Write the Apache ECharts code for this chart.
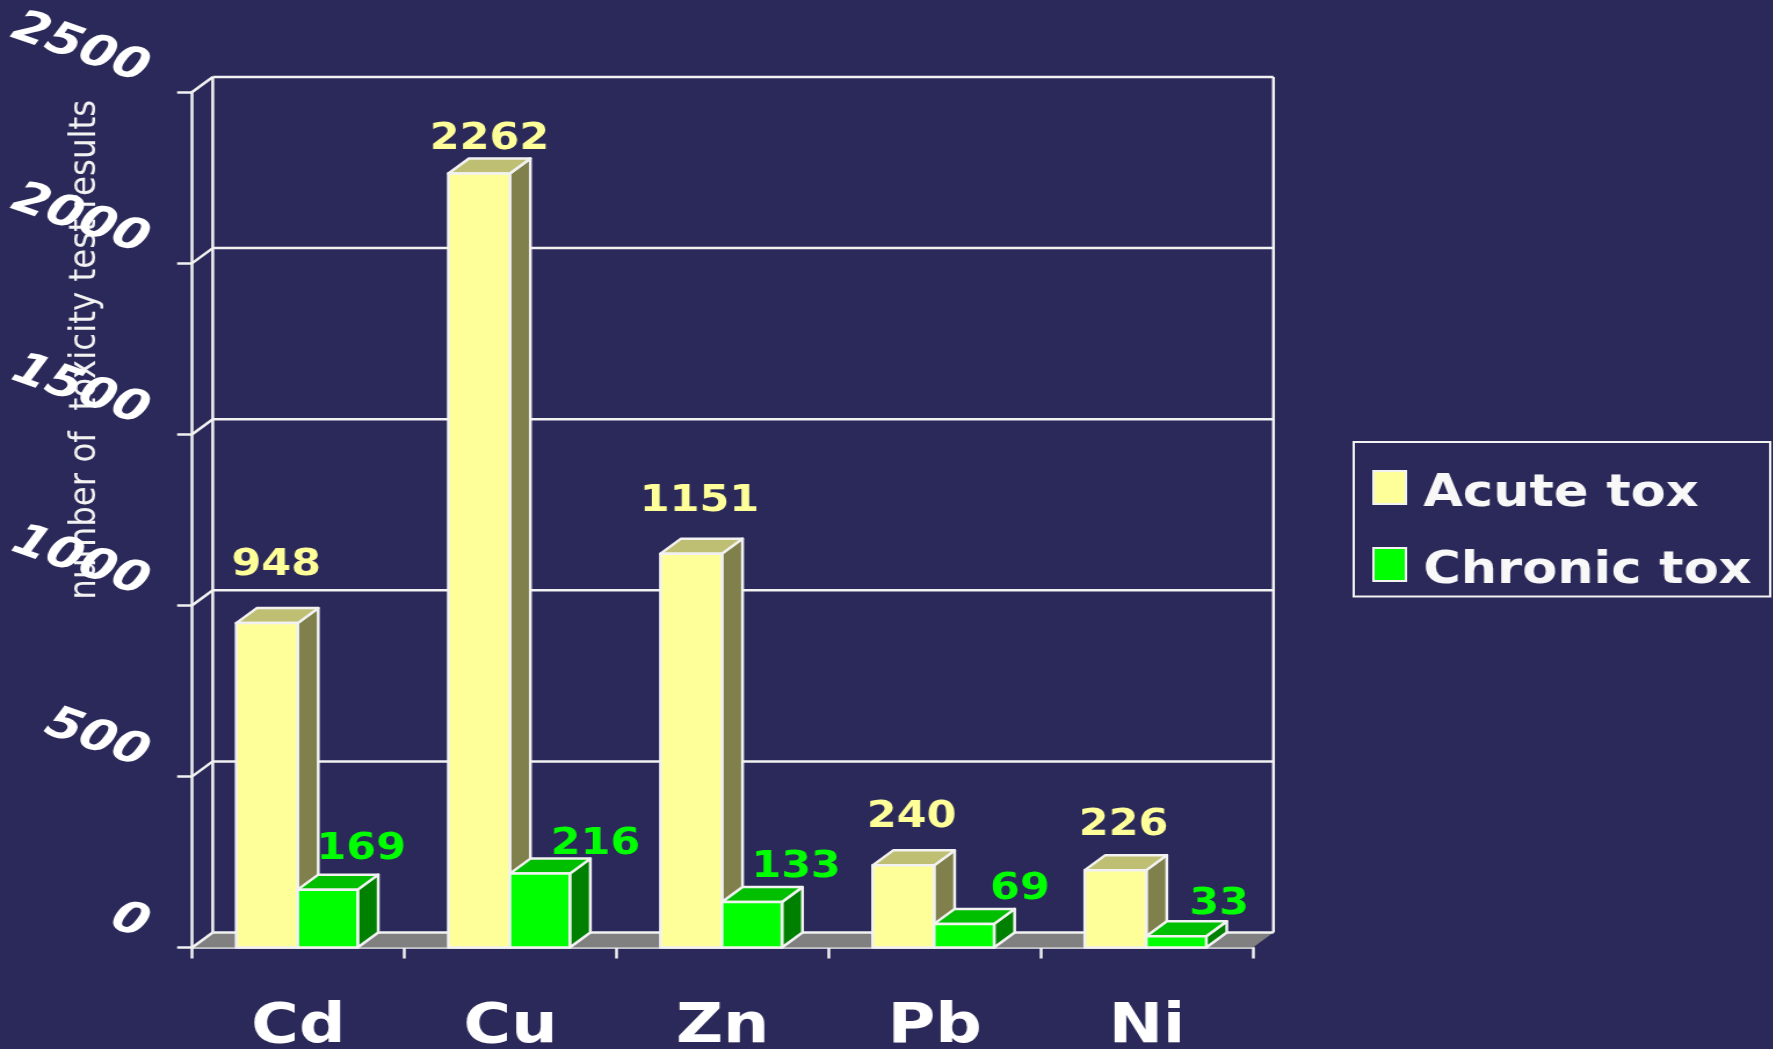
<!DOCTYPE html>
<html>
<head>
<meta charset="utf-8">
<title>Toxicity test results</title>
<script src="https://cdn.jsdelivr.net/npm/echarts@6/dist/echarts.min.js"></script>
<style>
  html, body { margin: 0; padding: 0; background: #2b2959; overflow: hidden; }
  /* the original slide is stretched sideways, text included */
  #chart { width: 1528.45px; height: 1049px; transform: scaleX(1.16); transform-origin: 0 0; }
</style>
</head>
<body>
<div id="chart"></div>
<script>
const metals = ["Cd", "Cu", "Zn", "Pb", "Ni"]
const acuteTox = [948, 2262, 1151, 240, 226]
const chronicTox = [169, 216, 133, 69, 33]
const yTicks = [0, 500, 1000, 1500, 2000, 2500]

// hand-placed value labels in the original: offset from the bar's top centre
const acuteLabelDx = [8, 9, 7, 7, 7]
const acuteLabelDy = [-58, -34, -52, -48, -45]
const chronicLabelDx = [29, 48, 38, 48, 37]
const chronicLabelDy = [-40, -29, -35, -34, -32]

const depthX = 17.7
const depthY = 15
const font = "DejaVu Sans"
const line = "#f2f2f2"
const lineWidth = 2.5

function box(params, api, o) {
  const [cx, top] = api.coord([api.value(0), api.value(1)])
  const [, base] = api.coord([api.value(0), 0])
  const x0 = cx + o.shift
  const x1 = x0 + o.width
  const edge = { stroke: line, lineWidth, lineJoin: "round" }
  return {
    type: "group",
    children: [
      { type: "polygon", shape: { points: [[x1, top], [x1 + depthX, top - depthY], [x1 + depthX, base - depthY], [x1, base]] },
        style: { fill: o.side, ...edge } },
      { type: "polygon", shape: { points: [[x0, top], [x0 + depthX, top - depthY], [x1 + depthX, top - depthY], [x1, top]] },
        style: { fill: o.cap, ...edge } },
      { type: "rect", shape: { x: x0, y: top, width: o.width, height: base - top },
        style: { fill: o.color, ...edge } },
      { type: "text", x: x0 + o.width / 2 + o.labelDx[params.dataIndex], y: top + o.labelDy[params.dataIndex],
        style: { text: String(api.value(1)), fill: o.color, font: `bold 37px "${font}"`, align: "center", verticalAlign: "middle" } },
    ],
  }
}

function renderWall(params, api) {
  const { x, width } = params.coordSys
  const y = api.coord([0, api.value(1)])[1]
  const [, base] = api.coord([0, 0])
  const right = x + width
  const stroke = { stroke: line, lineWidth }
  const children = [
    { type: "line", shape: { x1: x + depthX, y1: y - depthY, x2: right + depthX, y2: y - depthY }, style: stroke },
    { type: "line", shape: { x1: x, y1: y, x2: x + depthX, y2: y - depthY }, style: stroke },
  ]
  if (params.dataIndex === 0) {
    children.unshift({ type: "polygon", shape: { points: [[x, base], [x + depthX, base - depthY], [right + depthX, base - depthY], [right, base]] },
      style: { fill: "#808080" } })
    const wallTop = api.coord([0, yTicks[yTicks.length - 1]])[1] - depthY
    children.push(
      { type: "line", shape: { x1: x + depthX, y1: wallTop, x2: x + depthX, y2: base - depthY }, style: stroke },
      { type: "line", shape: { x1: right + depthX, y1: wallTop, x2: right + depthX, y2: base - depthY }, style: stroke },
    )
  }
  return { type: "group", children }
}

const chart = echarts.init(document.getElementById("chart"))

chart.setOption({
  backgroundColor: "#2b2959",
  animation: false,
  legend: {
    orient: "vertical",
    left: 1167,
    top: 442,
    padding: [28, 16, 3, 16],
    icon: "rect",
    itemWidth: 28,
    itemHeight: 33,
    itemGap: 30.4,
    itemStyle: { borderColor: line, borderWidth: 2 },
    borderColor: line,
    borderWidth: 2,
    selectedMode: false,
    data: ["Acute tox", "Chronic tox"],
    formatter: "{t|{name}}",
    textStyle: {
      rich: { t: { color: "#f8f8f8", fontFamily: font, fontWeight: "bold", fontSize: 44, padding: [14, 0, 0, 10] } },
    },
  },
  grid: { left: 165.7, top: 92, width: 914.4, height: 855.5, outerBoundsMode: "none" },
  xAxis: {
    type: "category",
    data: metals,
    axisLine: { lineStyle: { color: line, width: lineWidth } },
    axisTick: { show: true, length: 11, lineStyle: { color: line, width: lineWidth } },
    axisLabel: { interval: 0, color: "#fff", fontFamily: font, fontWeight: "bold", fontSize: 56, margin: 52 },
  },
  yAxis: {
    type: "value",
    min: 0,
    max: 2500,
    interval: 500,
    name: "number of  toxicity test results",
    nameLocation: "middle",
    nameRotate: 90,
    nameGap: 76,
    nameMoveOverlap: false,
    nameTextStyle: { color: "#f2f2f2", fontFamily: font, fontSize: 32.5, padding: [0, 0, 0, 340] },
    axisLine: { show: true, lineStyle: { color: line, width: lineWidth } },
    axisTick: { show: true, length: 13, lineStyle: { color: line, width: lineWidth } },
    splitLine: { show: false },
    axisLabel: {
      color: "#fff", fontFamily: font, fontWeight: "bold", fontStyle: "italic", fontSize: 44,
      rotate: -22, margin: 48, verticalAlign: "bottom",
      formatter: (v) => String(v),
    },
  },
  series: [
    {
      type: "custom", name: "wall", silent: true,
      encode: { x: 0, y: 1 },
      data: yTicks.map((v) => [0, v]),
      renderItem: renderWall,
    },
    {
      type: "custom", name: "Acute tox", silent: true,
      itemStyle: { color: "#ffff99" },
      encode: { x: 0, y: 1 },
      data: acuteTox.map((v, i) => [i, v]),
      renderItem: (params, api) => box(params, api, {
        shift: -53.5, width: 53, color: "#ffff99", side: "#80804d", cap: "#bfbf73",
        labelDx: acuteLabelDx, labelDy: acuteLabelDy,
      }),
    },
    {
      type: "custom", name: "Chronic tox", silent: true,
      itemStyle: { color: "#00ff00" },
      encode: { x: 0, y: 1 },
      data: chronicTox.map((v, i) => [i, v]),
      renderItem: (params, api) => box(params, api, {
        shift: -0.5, width: 51.7, color: "#00ff00", side: "#008000", cap: "#00bf00",
        labelDx: chronicLabelDx, labelDy: chronicLabelDy,
      }),
    },
  ],
})
</script>
</body>
</html>
